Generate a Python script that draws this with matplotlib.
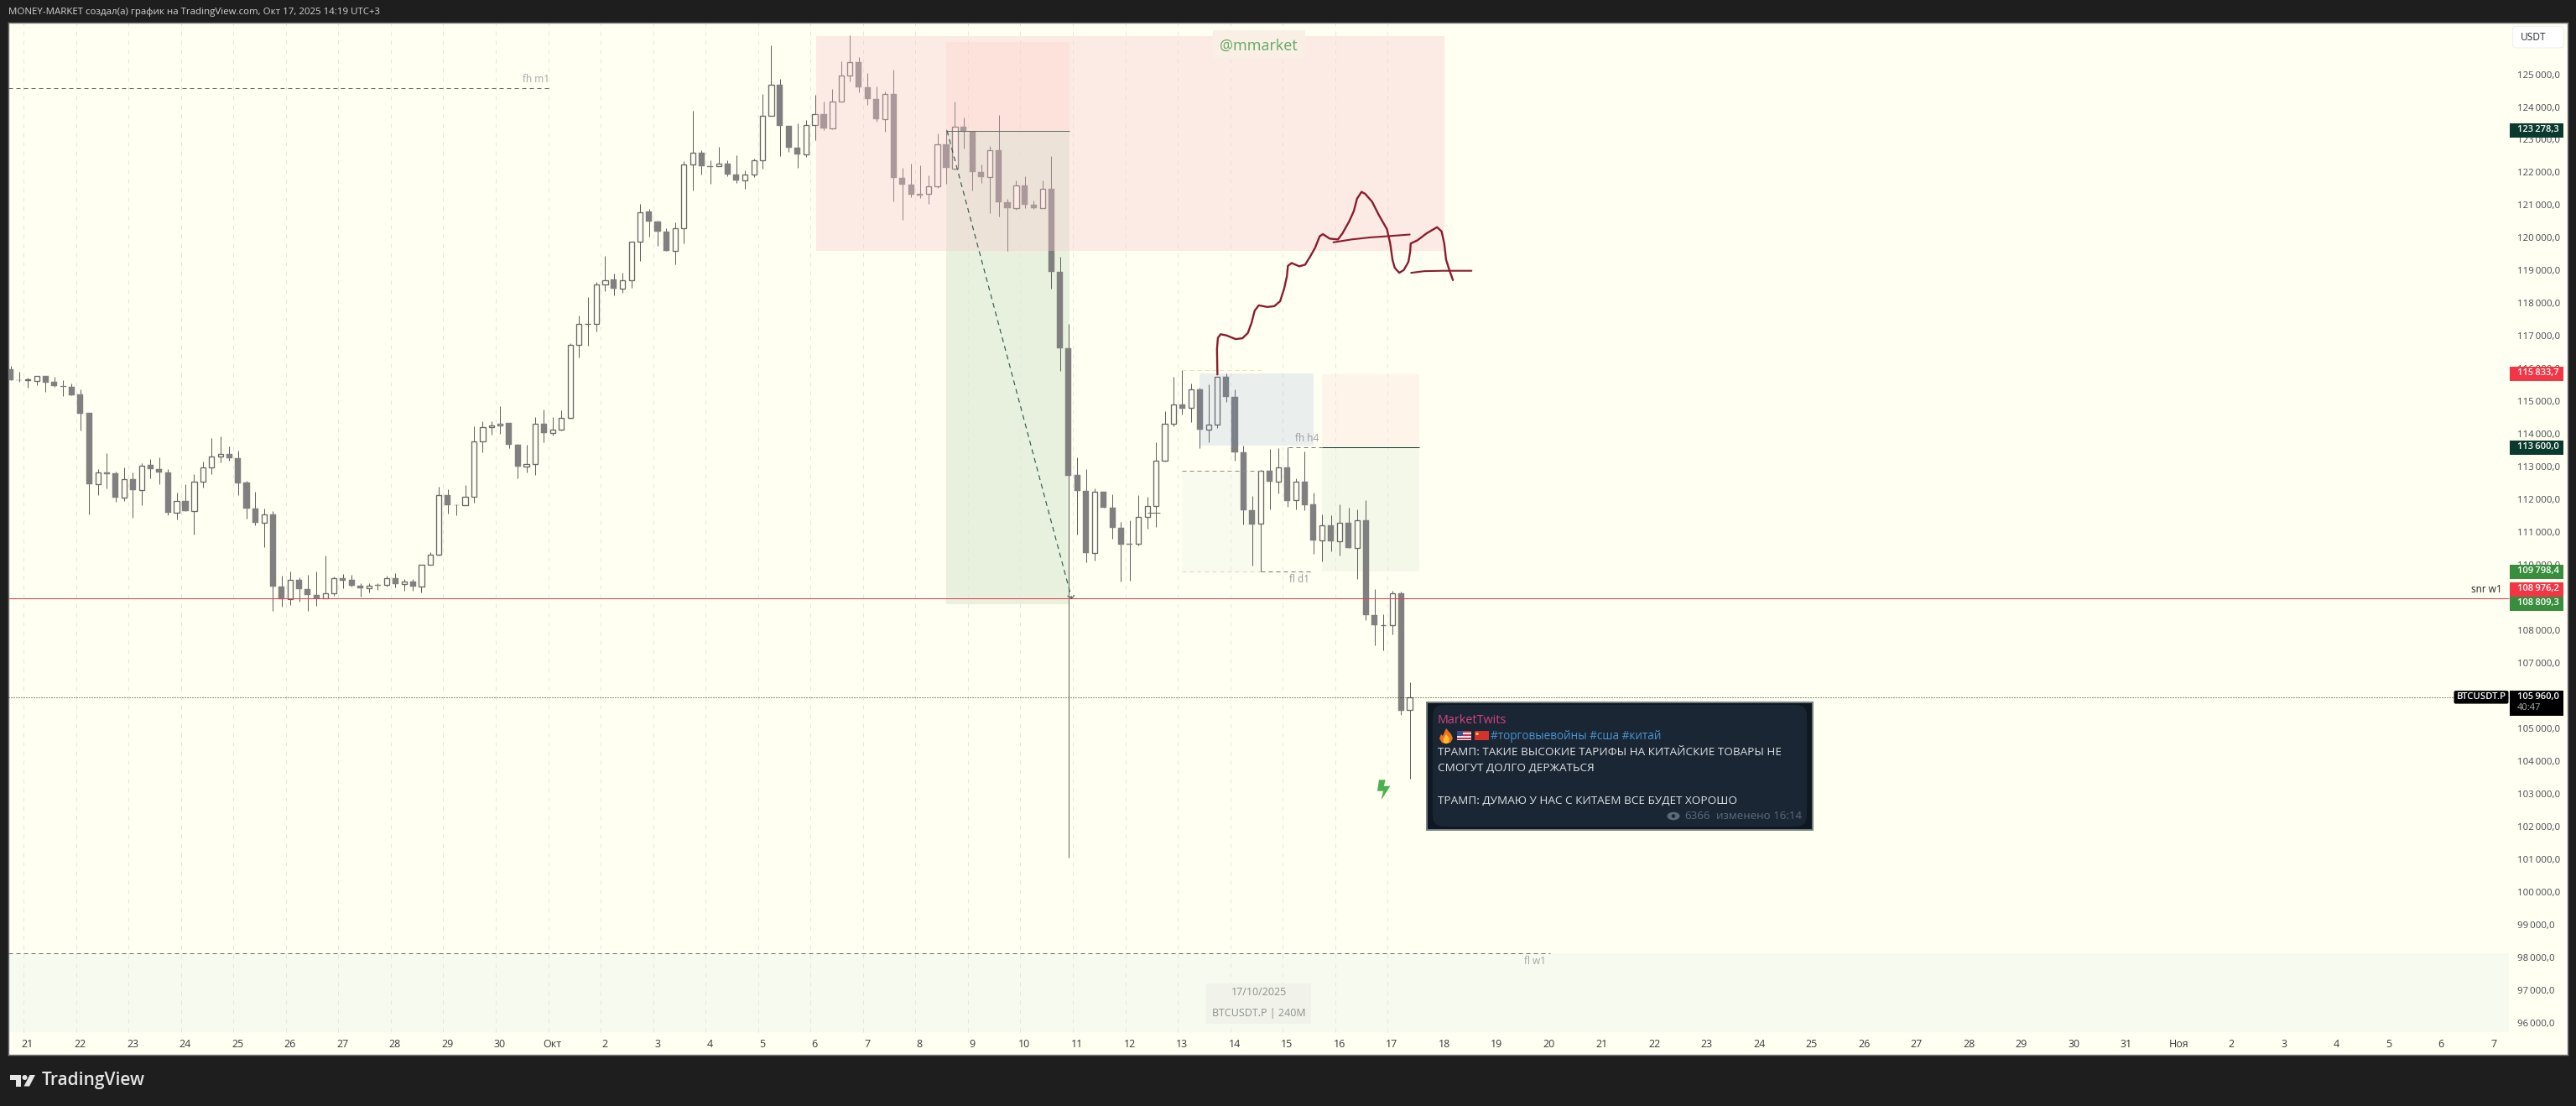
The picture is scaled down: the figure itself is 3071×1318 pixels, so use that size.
import matplotlib
matplotlib.use("Agg")
import matplotlib.pyplot as plt
from matplotlib.patches import Rectangle, Polygon, FancyBboxPatch, Ellipse, Circle

plt.rcParams['font.family'] = ['Open Sans', 'DejaVu Sans']

highs = [
 116083,115912,115716,115784,115784,115741,115639,115536,115356,114638,
 112936,113406,112859,112970,112816,113098,113227,113278,112919,112200,
 112457,112765,113150,113868,113919,113612,113483,112577,112226,111713,
 111653,109660,109788,109609,109686,109788,110276,109652,109728,109703,
 109438,109446,109429,109677,109754,109566,109575,110011,110378,112380,
 112303,111850,112431,114227,114381,114398,114843,114330,113706,113663,
 114527,114758,114527,114715,116778,117636,118184,118657,119440,118918,
 118943,119888,121033,120883,120523,120299,120485,122351,123881,122687,
 122364,122787,122376,122513,122065,122426,124404,125884,124852,123434,
 123508,123595,124367,124155,124553,125399,126195,125524,125051,124640,
 124479,125138,122152,122277,122214,121904,123185,123309,124168,123682,
 123247,122252,122812,123745,121194,121754,121879,121130,121754,122501,
 119428,117363,113293,112936,112340,112240,112157,111314,111369,112139,
 112084,113742,114705,115759,115960,115548,115410,115529,115759,115850,
 115364,113651,112111,112909,113532,113577,113605,112643,113477,112212,
 111552,111516,111855,111754,111699,111983,109261,108491,109206,109179,
 106420]
lows = [
 115647,115596,115416,115493,115288,115433,115160,115185,114108,111542,
 112123,112337,111927,111952,111439,111824,112645,112465,111516,111388,
 111644,110926,112363,112773,113133,113184,112123,111405,111208,110541,
 108591,108719,108771,108873,108591,108745,108984,109053,109275,109327,
 109027,109155,109232,109335,109301,109207,109207,109155,110011,110284,
 111567,111516,111833,111892,113432,113971,114005,113569,112645,112816,
 112748,113748,113945,114099,114464,116343,116691,117126,118370,118246,
 118308,118458,119304,120025,119764,119590,119179,119826,121443,121941,
 121642,122190,121879,121680,121493,121854,122102,123732,122501,122637,
 122140,122463,122998,123284,123309,124155,124777,124454,124056,123558,
 123235,121107,120560,121244,121219,121045,121518,121655,122090,122725,
 121443,121680,120759,120659,119602,120846,120921,120871,120908,118445,
 115932,101050,110938,110068,110123,111736,110810,109481,109527,110581,
 111094,111149,113165,114228,114604,114356,113559,113742,114173,114980,
 113193,111222,109967,109793,111690,112175,111763,111708,111662,110324,
 110095,110425,110297,110508,109555,108299,107529,107374,107878,105422,
 103451]
opens = [
 115972,115656,115647,115630,115784,115587,115476,115450,115202,114638,
 112465,112833,112790,112055,112628,112286,113047,112936,112833,111593,
 111961,111644,112542,112987,113321,113398,113269,112508,111730,111285,
 111550,109343,108950,109549,109267,109087,108984,109130,109600,109532,
 109369,109292,109395,109395,109600,109421,109498,109343,110011,110310,
 112140,111833,111833,112089,113783,114219,114270,114330,113680,113013,
 113081,114321,114031,114142,114489,116728,117370,117375,118582,118719,
 118445,118706,119888,120796,120498,120199,119590,120299,122252,122613,
 122202,122190,122277,121941,121754,121928,122376,123732,124690,123434,
 122762,122550,123458,123782,123346,124168,124964,125362,124603,124255,
 123633,124404,121841,121630,121344,121344,121580,122861,122127,123396,
 123247,122015,121866,122687,121095,120908,121605,121008,120908,121505,
 118968,116629,112753,112267,110361,112240,111754,111140,110645,110636,
 111461,111800,113183,114311,114897,114796,115364,114127,114283,115759,
 115135,113440,111671,111259,112872,112542,112973,111974,112542,111846,
 110737,111204,110709,111287,110508,111360,108464,108143,108143,109133,
 105559]
closes = [
 115647,115647,115664,115784,115570,115468,115442,115185,114621,112465,
 112833,112773,112055,112628,112286,113038,112927,112825,111593,111961,
 111644,112551,112987,113321,113398,113261,112491,111721,111285,111550,
 109335,108950,109549,109258,109079,108984,109138,109600,109515,109361,
 109275,109361,109361,109600,109412,109489,109343,110011,110310,112140,
 111824,111815,112089,113774,114219,114262,114321,113663,113004,113081,
 114321,114031,114133,114493,116728,117375,117380,118582,118706,118445,
 118706,119888,120784,120498,120199,119590,120299,122252,122600,122190,
 122177,122277,121928,121754,121928,122376,123732,124690,123421,122762,
 122550,123458,123782,123346,124168,124964,125362,124603,124242,123620,
 124404,121841,121630,121319,121306,121580,122861,122140,123396,123247,
 122003,121854,122687,121095,120908,121605,121008,120908,121505,118955,
 116629,112734,112249,110352,112230,111736,111122,110608,110617,111461,
 111800,113183,114311,114897,114787,115364,114127,114283,115759,115126,
 113431,111662,111241,112872,112533,112973,111965,112533,111836,110737,
 111204,110709,111277,110508,111351,108455,108143,108152,109124,105550,
 105960]

price_ticks = list(range(96000, 126000, 1000))
day_labels = ['21','22','23','24','25','26','27','28','29','30','Окт'] + \
             [str(d) for d in range(2, 32)] + ['Ноя'] + [str(d) for d in range(2, 8)]

# pen drawing (bar index, price)
pen_x = [138.02,137.97,138.07,138.39,139.06,140.10,140.88,141.50,141.92,142.28,142.75,143.74,144.52,
         145.19,145.66,145.97,146.08,146.50,147.38,148.05,148.68,149.20,149.72,150.08,150.86,151.80,
         152.32,153.10,153.62,153.98,154.50,154.92,155.70,156.48,157.41,157.78,158.04,158.30,158.82,
         159.34,159.86,160.06,160.12,160.90,161.94,163.13,163.65,163.96,164.17,164.54,164.95]
pen_y = [115820,116592,116940,117052,117015,116903,116928,117089,117400,117773,117935,117885,117910,
         118060,118458,118831,119142,119229,119129,119179,119453,119702,120050,120112,119975,119950,
         120137,120510,120821,121194,121406,121344,121107,120697,120261,119826,119328,119080,118930,
         119017,119266,119577,119826,119925,120137,120324,120199,119826,119328,119017,118706]
pen2_x = [151.28,153.36,155.44,157.52,160.01]
pen2_y = [119863,119950,120012,120050,120100]
pen3_x = [160.17,161.67,163.76,167.08]
pen3_y = [118930,118980,118992,118992]

W, H = 3071, 1318
BG = '#fffff2'
fig = plt.figure(figsize=(W/100, H/100), dpi=100, facecolor='#1e1e1e')
ax = fig.add_axes([10/W, (H-1257)/H, 3051/W, 1230/H], facecolor=BG)
ax.set_xlim(-0.24, 292.42)
ax.set_ylim(95016.7, 126579.5)
for s in ax.spines.values():
    s.set_color('#7a7a7a'); s.set_linewidth(1.0)

PANE_R = 285.7
PANE_B = 95709
THIN = 0.72

def zone(x0, x1, y0, y1, color, alpha=1.0, z=1):
    ax.add_patch(Rectangle((x0, y0), x1-x0, y1-y0, facecolor=color, alpha=alpha, edgecolor='none', zorder=z))

# zones below candles
zone(-0.24, PANE_R, PANE_B, 98130, '#f6faef')
zone(107.0, 121.1, 123278.3, 125984, '#ff8770', 0.10)
zone(107.0, 121.1, 108809.3, 123278.3, '#a7cba6', 0.25)
zone(134.0, 143.0, 109793, 112872, '#fafbef')
zone(150.0, 161.1, 113600, 115833.7, '#fff4ea')
zone(150.0, 161.1, 109798.4, 113600, '#f4f8e9')

# grid
grid_x = [1.49 + 6*k for k in range(27)]
ax.vlines(grid_x, PANE_B, 126579.5, color='#e6e6df', lw=THIN, linestyles=(0, (5, 6)), zorder=1.5)

# candles
idx = list(range(len(opens)))
up = [c >= o for o, c in zip(opens, closes)]
wicks = ax.vlines(idx, lows, highs, color='#606060', lw=THIN, zorder=2.9)
wicks.set_snap(True)
for i in idx:
    b = min(opens[i], closes[i]); h = abs(closes[i]-opens[i])
    if up[i]:
        ax.bar(i, h, bottom=b, width=0.60, facecolor=BG, edgecolor='#686868', linewidth=0.95, zorder=3)
    else:
        ax.bar(i, h, bottom=b, width=0.68, facecolor='#808080', edgecolor='#808080', linewidth=0.3, zorder=3)

# zones above candles
zone(92.1, 164.0, 119590, 126170, '#f9c6cd', 0.35, z=4)
zone(136.0, 149.0, 113651, 115841, '#5882d1', 0.12, z=4)

# levels
def level(y, x0, x1, color, ls='solid', lw=THIN):
    c = ax.hlines(y, x0, x1, color=color, lw=lw, linestyles=ls, zorder=5)
    c.set_snap(True)

DASH = (0, (5, 4))
level(108976.2, -0.24, PANE_R, '#f23645')
level(105960, -0.24, PANE_R, '#222222', (0, (1, 2)))
level(124578, -0.24, 61.5, '#6a6a6a', DASH)
level(98122, -0.24, 176.1, '#6a6a6a', DASH)
level(123278.3, 107.1, 121.1, '#5c6e62')
level(113600, 150.0, 161.1, '#0c3b2e')
level(113605, 146.1, 150.0, '#777777', DASH)
level(112872, 134.0, 143.0, '#8f8f8f', DASH)
level(109793, 134.0, 143.0, '#d4d4cc', DASH)
level(109793, 143.0, 149.0, '#777777', DASH)
level(115951, 134.0, 143.0, '#f7dcb5', DASH)
level(111589, 130.06, 131.5, '#686868')
ax.plot([107.1, 121.35], [123278.3, 108976.2], color='#2e5c4e', lw=0.85, ls=DASH, zorder=5)
ax.plot([120.9, 121.35, 121.65], [109050, 108976.2, 109070], color='#2e5c4e', lw=0.7, zorder=5)

# pen
for px_, py_, lw_ in [(pen_x, pen_y, 1.7), (pen2_x, pen2_y, 1.5), (pen3_x, pen3_y, 1.5)]:
    ax.plot(px_, py_, color='#8a1c2c', lw=lw_, solid_joinstyle='round', solid_capstyle='round', zorder=6)

# ticks
ax.set_yticks(price_ticks)
ax.set_yticklabels([f"{v//1000}\u2009{v%1000:03d},0" for v in price_ticks])
ax.tick_params(axis='y', length=0, labelleft=False, labelright=True, pad=-43.4, labelsize=8.2, labelcolor='#434651')
ax.set_xticks([1.97 + 6*k for k in range(len(day_labels))])
ax.set_xticklabels(day_labels)
ax.tick_params(axis='x', length=0, pad=-9.36, labelsize=9.0, labelcolor='#3a3a3a')
for t in ax.get_xticklabels():
    t.set_va('center')

# overlay in image pixels
ov = fig.add_axes([0, 0, 1, 1], facecolor='none', zorder=10)
ov.set_xlim(0, W); ov.set_ylim(H, 0); ov.axis('off')

ov.text(10, 14.5, 'MONEY-MARKET создал(а) график на TradingView.com, Окт 17, 2025 14:19 UTC+3',
        color='#d4d4d4', fontsize=8.25, va='center', ha='left')

# watermarks
ov.add_patch(Rectangle((1446, 36), 110, 34, facecolor='#f9efe4', edgecolor='none'))
ov.text(1500.7, 54.5, '@mmarket', color='#66a865', fontsize=13.0, ha='center', va='center')
ov.add_patch(Rectangle((1438, 1171.7), 124.5, 48.3, facecolor='#f1f3ea', edgecolor='none'))
ov.text(1500.6, 1183, '17/10/2025', color='#8b908c', fontsize=9.0, ha='center', va='center')
ov.text(1500.6, 1207, 'BTCUSDT.P | 240M', color='#8b908c', fontsize=9.0, ha='center', va='center')

# level labels
ov.text(639, 94.5, 'fh m1', color='#a5a5a5', fontsize=8.5, ha='center', va='center')
ov.text(1558, 523, 'fh h4', color='#9a9a9a', fontsize=8.5, ha='center', va='center')
ov.text(1549, 691, 'fl d1', color='#9a9a9a', fontsize=8.5, ha='center', va='center')
ov.text(1830, 1145.7, 'fl w1', color='#a5a5a5', fontsize=8.5, ha='center', va='center')
ov.text(2982.7, 703, 'snr w1', color='#222222', fontsize=8.5, ha='right', va='center')

# price tags
tag_labels = ['123\u2009278,3', '115\u2009833,7', '113\u2009600,0', '109\u2009798,4', '108\u2009976,2', '108\u2009809,3']
tag_colors = ['#0a3a2e', '#f23645', '#0a3a2e', '#388e3c', '#f23645', '#388e3c']
tag_y = [155.3, 445, 533, 681, 702, 719]
for lab, col, y in zip(tag_labels, tag_colors, tag_y):
    ov.add_patch(Rectangle((2992, y-8.5), 64, 17, facecolor=col, edgecolor='none'))
    ov.text(3000.7, y-0.5, lab, color='white', fontsize=8.0, fontweight='semibold', va='center', ha='left')
ov.add_patch(Rectangle((2992, 822.6), 64, 30.4, facecolor='black', edgecolor='none'))
ov.text(3000.7, 830, '105\u2009960,0', color='white', fontsize=8.0, fontweight='semibold', va='center', ha='left')
ov.text(3000.7, 844, '40:47', color='#b0b0b0', fontsize=8.0, va='center', ha='left')
ov.add_patch(FancyBboxPatch((2926, 823.6), 64, 14.5, boxstyle='round,pad=0.5,rounding_size=2', facecolor='black', edgecolor='none'))
ov.text(2958, 830.5, 'BTCUSDT.P', color='white', fontsize=8.2, fontweight='semibold', va='center', ha='center')
ov.add_patch(FancyBboxPatch((2996, 32), 60, 24.5, boxstyle='round,pad=0.5,rounding_size=4', facecolor='white', edgecolor='#f0f0ea', lw=0.8))
ov.text(3004.5, 44.5, 'USDT', color='#2a2e39', fontsize=8.6, va='center', ha='left')

# lightning
ov.add_patch(Polygon([(1644, 929.3), (1651.7, 929.3), (1649.8, 936.7), (1657.4, 936.7), (1646.7, 953.3), (1649, 942.7), (1642, 942.7)],
                     closed=True, facecolor='#4caf50', edgecolor='none'))

# message picture
ov.add_patch(Rectangle((1701.4, 836.7), 459.2, 152.6, facecolor='#0f1821', edgecolor='#73807f', lw=1.4))
ov.add_patch(FancyBboxPatch((1708, 840), 446, 145, boxstyle='round,pad=0,rounding_size=13', facecolor='#1a2634', edgecolor='none'))
ov.text(1713.7, 858, 'MarketTwits', color='#d6417f', fontsize=10.4, va='center', ha='left')
ov.text(1777, 877.7, '#торговыевойны #сша #китай', color='#4b93cf', fontsize=9.8, va='center', ha='left')
msg_lines = ['ТРАМП: ТАКИЕ ВЫСОКИЕ ТАРИФЫ НА КИТАЙСКИЕ ТОВАРЫ НЕ', 'СМОГУТ ДОЛГО ДЕРЖАТЬСЯ', 'ТРАМП: ДУМАЮ У НАС С КИТАЕМ ВСЕ БУДЕТ ХОРОШО']
for line, y in zip(msg_lines, [896.7, 915.7, 954]):
    ov.text(1713.7, y, line, color='#dfe3e6', fontsize=9.7, va='center', ha='left')
ov.text(2008, 973, '6366', color='#5d6b78', fontsize=9.6, va='center', ha='left')
ov.text(2148, 973, 'изменено 16:14', color='#5d6b78', fontsize=9.6, va='center', ha='right')
ov.add_patch(Ellipse((1995, 972.5), 15, 9.5, facecolor='#5d6b78', edgecolor='none'))
ov.add_patch(Circle((1995, 972.5), 2.3, facecolor='#1a2634', edgecolor='none'))
# fire
ov.add_patch(Polygon([(1724, 868), (1730, 875), (1732, 880), (1729, 885), (1724, 886.5), (1719, 885), (1716, 880), (1718, 875), (1720, 877)],
                     closed=True, facecolor='#f3701e', edgecolor='none'))
ov.add_patch(Polygon([(1724, 875), (1728, 880), (1727, 885), (1724, 886), (1721, 885), (1720.5, 881)],
                     closed=True, facecolor='#fbc02d', edgecolor='none'))
# flags
ov.add_patch(Rectangle((1736.6, 871), 17.4, 11, facecolor='#e9e9ee', edgecolor='none'))
for k in range(3):
    ov.add_patch(Rectangle((1736.6, 871 + k*4), 17.4, 1.8, facecolor='#c8394a', edgecolor='none'))
ov.add_patch(Rectangle((1736.6, 871), 7.5, 5.5, facecolor='#3b4f92', edgecolor='none'))
ov.add_patch(Rectangle((1757.7, 871), 17.3, 11, facecolor='#d6322d', edgecolor='none'))
ov.add_patch(Circle((1761, 874.5), 1.6, facecolor='#f6d33c', edgecolor='none'))

# TradingView logo
ov.add_patch(Polygon([(12, 1281), (25, 1281), (25, 1294.5), (18.5, 1294.5), (18.5, 1287), (12, 1287)], closed=True, facecolor='#e6e6e6', edgecolor='none'))
ov.add_patch(Circle((29.5, 1284), 3, facecolor='#e6e6e6', edgecolor='none'))
ov.add_patch(Polygon([(35.5, 1281), (42, 1281), (35, 1294.5), (28.5, 1294.5)], closed=True, facecolor='#e6e6e6', edgecolor='none'))
ov.text(49.5, 1288, 'TradingView', color='#e6e6e6', fontsize=15.0, fontweight='semibold', va='center', ha='left')

fig.savefig('out.png', dpi=100, facecolor=fig.get_facecolor())
